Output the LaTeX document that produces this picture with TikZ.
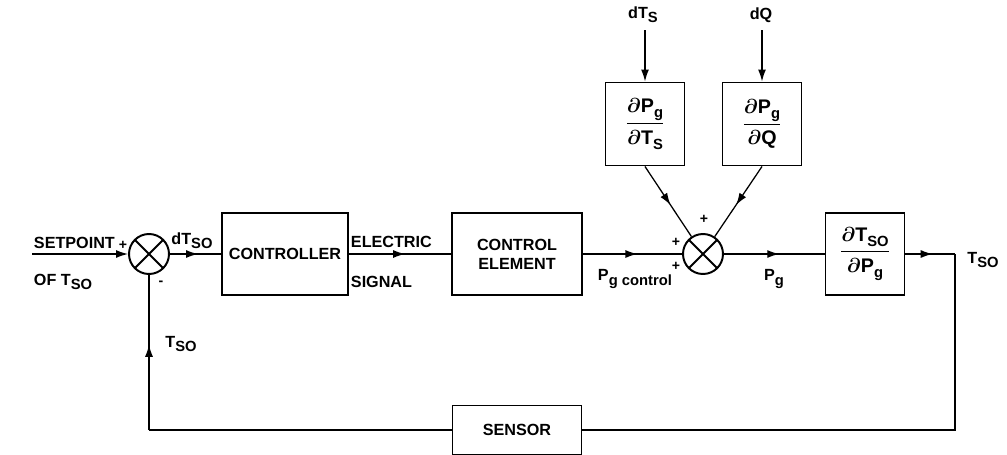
\documentclass[tikz,border=0pt]{standalone}
\usepackage{amsmath}
\usepackage{fontspec}
\setmainfont{Liberation Sans}
\usetikzlibrary{arrows.meta,decorations.markings}
\newcommand{\lowsub}[2]{\mbox{#1\raisebox{-0.5ex}{\fontsize{10.5}{10.5}\selectfont #2}}}

\begin{document}
\begin{tikzpicture}[x=0.25mm, y=-0.25mm,
      font=\fontsize{11.5}{13.5}\selectfont\bfseries\boldmath,
      block/.style={draw, line width=1.4pt, align=center, minimum height=20.5mm, inner sep=1pt},
      sum/.style={draw, circle, line width=1.4pt, minimum size=10mm,
                  path picture={\draw[line width=1.4pt]
                    (path picture bounding box.north west) -- (path picture bounding box.south east)
                    (path picture bounding box.north east) -- (path picture bounding box.south west);}},
      wire/.style={line width=0.9pt},
      midarrow/.style={wire, postaction={decorate},
                  decoration={markings, mark=at position 0.55 with {\arrow{Latex[length=3mm,width=2mm]}}}},
      sign/.style={font=\fontsize{10}{10}\selectfont\bfseries},
      frac/.style={font=\fontsize{14}{16}\selectfont\bfseries\boldmath},
      >={Latex[length=3mm,width=2mm]}]
    \useasboundingbox (0,0) rectangle (1007,454);
    \node[sum] (s1) at (149,254) {};
    \node[block, minimum width=31.5mm] (ctrl) at (285,254) {CONTROLLER};
    \node[block, minimum width=32.5mm] (ce) at (517,254) {CONTROL\\ELEMENT};
    \node[sum] (s2) at (703,254) {};
    \node[block, frac, minimum width=19.75mm, minimum height=20.75mm] (dts) at (645,124)
      {$\dfrac{\partial\lowsub{P}{g}}{\partial\lowsub{T}{S}}$};
    \node[block, frac, minimum width=19.75mm, minimum height=20.75mm] (dq) at (762,124)
      {$\dfrac{\partial\lowsub{P}{g}}{\partial\mbox{Q}}$};
    \node[block, frac, minimum width=19.75mm] (plant) at (865,254)
      {$\dfrac{\partial\lowsub{T}{SO}}{\partial\lowsub{P}{g}}$};
    \node[block, minimum width=32.25mm, minimum height=12.25mm] (sen) at (517,430) {SENSOR};
    \coordinate (sp) at (32,254);
    \coordinate (out) at (955,254);
    \coordinate (fb) at (149,430);
    \coordinate (in1) at (645,30);
    \coordinate (in2) at (762,30);
    \draw[wire,->] (sp) -- (s1);
    \draw[midarrow] (s1) -- (ctrl);
    \draw[midarrow] (ctrl) -- (ce);
    \draw[midarrow] (ce) -- (s2);
    \draw[midarrow] (s2) -- (plant);
    \draw[midarrow] (plant) -- (out);
    \draw[wire] (out) |- (sen);
    \draw[wire] (sen) -- (fb);
    \draw[midarrow] (fb) -- (s1);
    \draw[wire,->] (in1) -- (dts);
    \draw[wire,->] (in2) -- (dq);
    \draw[midarrow] (dts.south) -- (s2);
    \draw[midarrow] (dq.south) -- (s2);
    \node[anchor=west] (lsp) at (29,243) {SETPOINT};
    \node[anchor=west] (lof) at (29,282) {OF \lowsub{T}{SO}};
    \node[sign] (p1) at (123,245) {+};
    \node[sign] (m1) at (161,283) {-};
    \node (ldt) at (192,241) {d\lowsub{T}{SO}};
    \node[anchor=west] (lel) at (346,242) {ELECTRIC};
    \node[anchor=west] (lsig) at (346,282) {SIGNAL};
    \node[anchor=west] (lpc) at (593,279) {\lowsub{P}{g control}};
    \node[sign] (p2) at (704,219) {+};
    \node[sign] (p3) at (676,242) {+};
    \node[sign] (p4) at (676,266) {+};
    \node (lpg) at (774,279) {\lowsub{P}{g}};
    \node (lto) at (983,260) {\lowsub{T}{SO}};
    \node (lfb) at (181,344) {\lowsub{T}{SO}};
    \node (ldts) at (643,15) {d\lowsub{T}{S}};
    \node (ldq) at (761,15) {dQ};
  \end{tikzpicture}
\end{document}
